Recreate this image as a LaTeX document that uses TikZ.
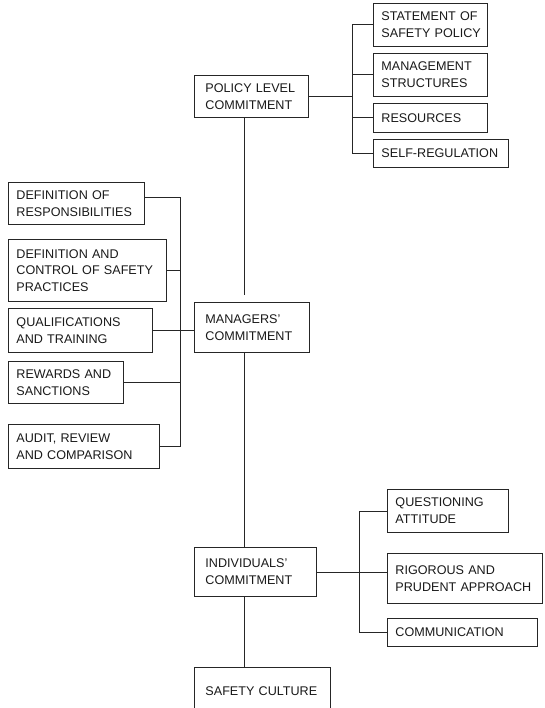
\documentclass[tikz,border=0pt]{standalone}
\usepackage{fontspec}
\setmainfont{Liberation Sans}
\usetikzlibrary{positioning}
\hyphenpenalty=10000
\exhyphenpenalty=10000

\begin{document}
\begin{tikzpicture}[x=1pt,y=-1pt,line width=0.9pt,draw=black!85,
  every node/.style={draw=black!85,anchor=north west,inner xsep=8pt,inner ysep=0pt,
    align=left,text=black!90,font=\fontsize{12.6}{16.7}\selectfont},
  mainbox/.style={inner xsep=11pt}]
\useasboundingbox (0,0) rectangle (544,708);
\coordinate (spine) at (244,0);
\coordinate (pbus) at (352,0);
\coordinate (mbus) at (180,0);
\coordinate (ibus) at (359,0);
\node (policy) at (194,75) [mainbox,text width=92pt,minimum height=42pt]{POLICY~LEVEL\\COMMITMENT};
\node (stmt) at (373,3) [text width=98pt,minimum height=43pt]{STATEMENT~OF\\SAFETY~POLICY};
\node (mgmt) at (373,53) [text width=98pt,minimum height=43pt]{MANAGEMENT\\STRUCTURES};
\node (res) at (373,103) [text width=98pt,minimum height=29pt]{RESOURCES};
\node (selfreg) at (373,139) [text width=119pt,minimum height=28pt]{\mbox{SELF-REGULATION}};
\node (managers) at (194,302) [mainbox,text width=93pt,minimum height=50pt]{MANAGERS'\\COMMITMENT};
\node (defresp) at (8,182) [text width=120pt,minimum height=42pt]{DEFINITION~OF\\RESPONSIBILITIES};
\node (defctrl) at (8,239) [text width=142pt,minimum height=62pt]{DEFINITION~AND\\CONTROL~OF~SAFETY\\PRACTICES};
\node (qual) at (8,308) [text width=128pt,minimum height=44pt]{QUALIFICATIONS\\AND~TRAINING};
\node (rew) at (8,361) [text width=99pt,minimum height=42pt]{REWARDS~AND\\SANCTIONS};
\node (audit) at (8,424) [text width=135pt,minimum height=44pt]{AUDIT,~REVIEW\\AND~COMPARISON};
\node (indiv) at (194,547) [mainbox,text width=100pt,minimum height=49pt]{INDIVIDUALS'\\COMMITMENT};
\node (quest) at (387,489) [text width=105pt,minimum height=43pt]{QUESTIONING\\ATTITUDE};
\node (rig) at (387,553) [text width=139pt,minimum height=50pt]{RIGOROUS~AND\\PRUDENT~APPROACH};
\node (comm) at (387,618) [text width=134pt,minimum height=28pt]{COMMUNICATION};
\node (safety) at (194,667) [mainbox,text width=114pt,minimum height=48pt]{SAFETY~CULTURE};
\draw (policy.south -| spine) -- ([yshift=7pt]managers.north -| spine);
\draw (managers.south -| spine) -- (indiv.north -| spine);
\draw (indiv.south -| spine) -- (safety.north -| spine);
\draw (policy.east) -- (policy.east -| pbus);
\draw (stmt.west) -| (selfreg.west -| pbus) -- (selfreg.west);
\draw (mgmt.west) -- (mgmt.west -| pbus);
\draw (res.west) -- (res.west -| pbus);
\draw ([yshift=6pt]defresp.east) -| (audit.east -| mbus) -- (audit.east);
\draw (defctrl.east) -- (defctrl.east -| mbus);
\draw (qual.east) -- (qual.east -| managers.west);
\draw (rew.east) -- (rew.east -| mbus);
\draw (indiv.east) -- (indiv.east -| rig.west);
\draw (quest.west) -| (comm.west -| ibus) -- (comm.west);
\end{tikzpicture}
\end{document}
